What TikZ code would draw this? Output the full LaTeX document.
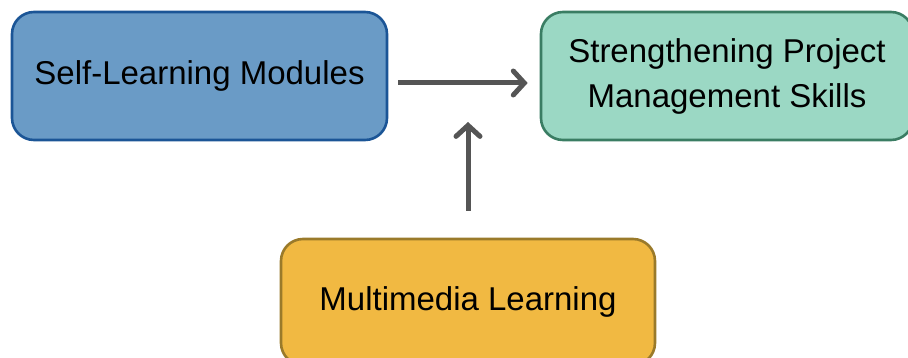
\documentclass[tikz,border=0pt]{standalone}
\usepackage{fontspec}
\setmainfont{Liberation Sans}
\usetikzlibrary{arrows.meta}
\definecolor{blueFill}{HTML}{6A9BC6}
\definecolor{blueLine}{HTML}{1B5596}
\definecolor{greenFill}{HTML}{9BD8C4}
\definecolor{greenLine}{HTML}{3A7D63}
\definecolor{yellowFill}{HTML}{F1B942}
\definecolor{yellowLine}{HTML}{9A7A2A}
\definecolor{arrowGray}{HTML}{555555}
\tikzset{
  box/.style={draw, line width=2.6pt, rounded corners=22pt, align=center,
    inner sep=0pt, font=\fontsize{33}{45}\selectfont, text=black},
  flow/.style={draw=arrowGray, line width=5pt,
    -{Straight Barb[length=11pt, width=24pt, line cap=round, line width=5pt]}}
}
\begin{document}
\begin{tikzpicture}[x=1pt, y=-1pt]
  \useasboundingbox (0,0) rectangle (908,358);
  \clip (0,0) rectangle (908,358);
  \node[box, fill=blueFill, draw=blueLine, minimum width=375pt, minimum height=128pt]
    (slm) at (199.5,76) {Self-Learning Modules};
  \node[box, fill=greenFill, draw=greenLine, minimum width=372pt, minimum height=128pt]
    (pm) at (727,76) {Strengthening Project\\Management Skills};
  \node[box, fill=yellowFill, draw=yellowLine, minimum width=374pt, minimum height=126pt]
    (mm) at (468,302) {Multimedia Learning};
  \coordinate (tip) at (468,122);
  \draw[flow] ([xshift=10pt, yshift=-7pt]slm.east) -- ([xshift=-12pt, yshift=-7pt]pm.west);
  \draw[flow] ([yshift=27pt]mm.north) -- (tip);
\end{tikzpicture}
\end{document}
